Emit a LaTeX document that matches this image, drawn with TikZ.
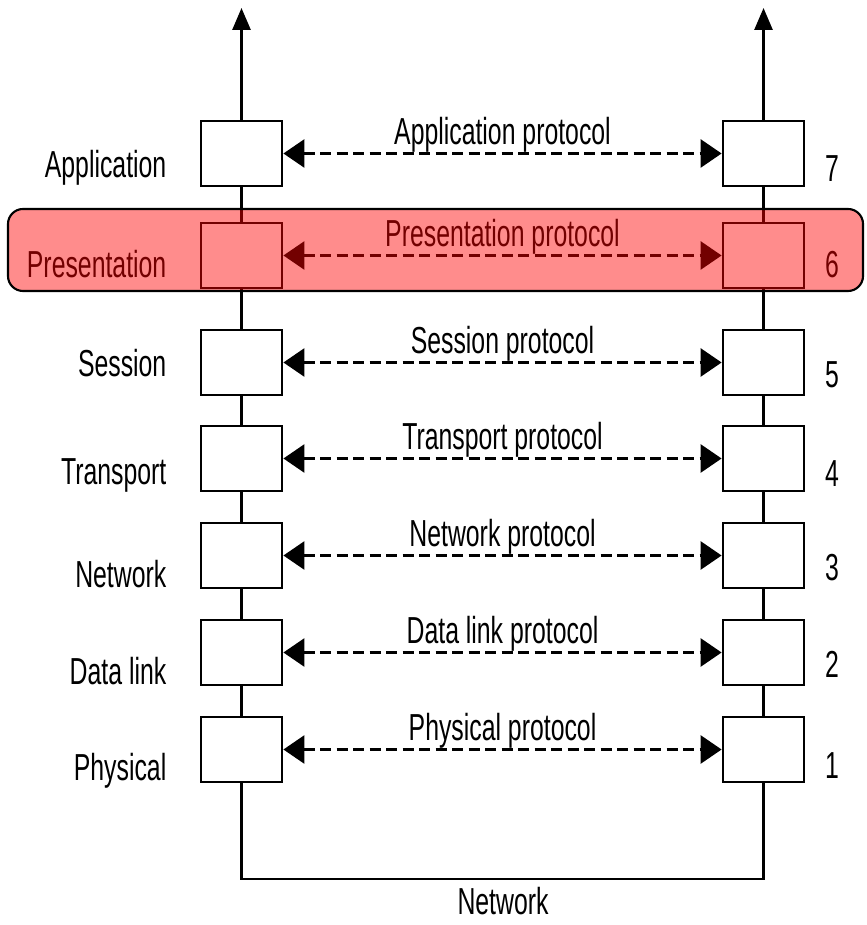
\documentclass[tikz,border=0pt]{standalone}
\usepackage{fontspec}
\setmainfont{Liberation Sans}[FakeStretch=0.66]
\usetikzlibrary{arrows.meta}

\begin{document}
\begin{tikzpicture}[
    every node/.style={font=\fontsize{10.7pt}{12pt}\selectfont},
    layerbox/.style={draw, line width=0.8pt, minimum width=0.81cm, minimum height=0.65cm, inner sep=0pt},
    proto/.style={line width=0.8pt, dash pattern=on 0.11cm off 0.055cm,
        {Triangle[length=0.21cm,width=0.28cm]}-{Triangle[length=0.21cm,width=0.28cm]}},
    stack/.style={line width=0.8pt},
    lbl/.style={anchor=base east, inner sep=0pt},
    num/.style={anchor=base, inner sep=0pt},
    plbl/.style={midway, above, inner sep=0pt}
]
    \useasboundingbox (0,0) rectangle (8.66,-9.25);

    % 7 - Application
    \node[layerbox] (L7) at (2.415,-1.535) {};
    \node[layerbox] (R7) at (7.635,-1.535) {};
    \node[lbl] (n7) at (1.67,-1.78) {Application};
    \node[num] (k7) at (8.32,-1.82) {7};
    \draw[proto] (L7) -- (R7) node[plbl] {Application protocol};

    % 6 - Presentation
    \node[layerbox] (L6) at (2.415,-2.555) {};
    \node[layerbox] (R6) at (7.635,-2.555) {};
    \node[lbl] (n6) at (1.67,-2.78) {Presentation};
    \node[num] (k6) at (8.32,-2.78) {6};
    \draw[proto] (L6) -- (R6) node[plbl] {Presentation protocol};

    % 5 - Session
    \node[layerbox] (L5) at (2.415,-3.625) {};
    \node[layerbox] (R5) at (7.635,-3.625) {};
    \node[lbl] (n5) at (1.67,-3.77) {Session};
    \node[num] (k5) at (8.32,-3.88) {5};
    \draw[proto] (L5) -- (R5) node[plbl] {Session protocol};

    % 4 - Transport
    \node[layerbox] (L4) at (2.415,-4.585) {};
    \node[layerbox] (R4) at (7.635,-4.585) {};
    \node[lbl] (n4) at (1.67,-4.85) {Transport};
    \node[num] (k4) at (8.32,-4.87) {4};
    \draw[proto] (L4) -- (R4) node[plbl] {Transport protocol};

    % 3 - Network
    \node[layerbox] (L3) at (2.415,-5.555) {};
    \node[layerbox] (R3) at (7.635,-5.555) {};
    \node[lbl] (n3) at (1.67,-5.87) {Network};
    \node[num] (k3) at (8.32,-5.80) {3};
    \draw[proto] (L3) -- (R3) node[plbl] {Network protocol};

    % 2 - Data link
    \node[layerbox] (L2) at (2.415,-6.525) {};
    \node[layerbox] (R2) at (7.635,-6.525) {};
    \node[lbl] (n2) at (1.67,-6.84) {Data link};
    \node[num] (k2) at (8.32,-6.77) {2};
    \draw[proto] (L2) -- (R2) node[plbl] {Data link protocol};

    % 1 - Physical
    \node[layerbox] (L1) at (2.415,-7.495) {};
    \node[layerbox] (R1) at (7.635,-7.495) {};
    \node[lbl] (n1) at (1.67,-7.80) {Physical};
    \node[num] (k1) at (8.32,-7.78) {1};
    \draw[proto] (L1) -- (R1) node[plbl] {Physical protocol};

    % the two stacks
    \coordinate (topL) at (2.415,-0.08);
    \coordinate (topR) at (7.635,-0.08);
    \draw[stack, -{Triangle[length=0.22cm,width=0.18cm]}] (L7.north) -- (topL);
    \draw[stack, -{Triangle[length=0.22cm,width=0.18cm]}] (R7.north) -- (topR);
    \draw[stack] (L7.south) -- (L6.north) (L6.south) -- (L5.north) (L5.south) -- (L4.north)
        (L4.south) -- (L3.north) (L3.south) -- (L2.north) (L2.south) -- (L1.north);
    \draw[stack] (R7.south) -- (R6.north) (R6.south) -- (R5.north) (R5.south) -- (R4.north)
        (R4.south) -- (R3.north) (R3.south) -- (R2.north) (R2.south) -- (R1.north);

    % physical medium
    \coordinate (bus) at (5.03,-8.79);
    \draw[stack] (L1.south) |- (bus) -| (R1.south);
    \node[anchor=base] (net) at (5.03,-9.14) {Network};

    % highlight of layer 6
    \draw[line width=0.6pt, fill=red, fill opacity=0.45, rounded corners=0.15cm]
        (0.08,-2.09) rectangle (8.63,-2.91);
\end{tikzpicture}
\end{document}
